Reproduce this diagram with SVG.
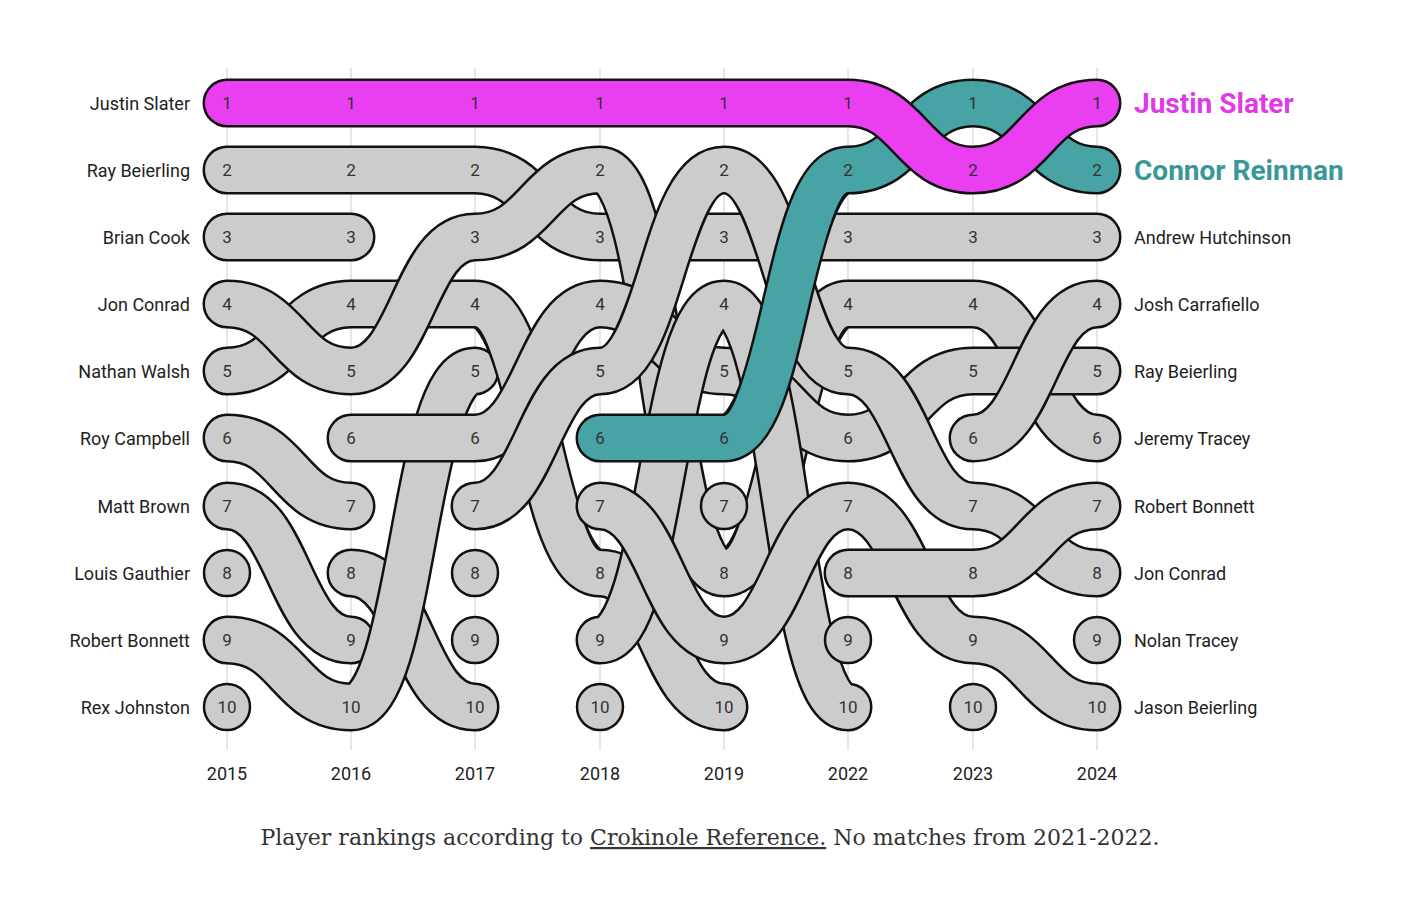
<svg xmlns="http://www.w3.org/2000/svg" xmlns:xlink="http://www.w3.org/1999/xlink" width="1420" height="918" viewBox="0 0 1420 918">
<style>
.o{fill:none;stroke:#111;stroke-width:49;stroke-linecap:round;stroke-linejoin:round}
.g{fill:none;stroke:#cccccc;stroke-width:44;stroke-linecap:round;stroke-linejoin:round}
.m{fill:none;stroke:#ea3ff0;stroke-width:44;stroke-linecap:round}
.t{fill:none;stroke:#48a3a4;stroke-width:44;stroke-linecap:round}
.dot{fill:#cccccc;stroke:#111;stroke-width:2.5}
.n{font-family:Roboto,"Liberation Sans",sans-serif;font-size:17px;fill:#333;text-anchor:middle}
.lab{font-family:Roboto,"Liberation Sans",sans-serif;font-size:18px;fill:#222}
.yr{font-family:Roboto,"Liberation Sans",sans-serif;font-size:18px;fill:#222;text-anchor:middle}
.grid{stroke:#e6e6e6;stroke-width:2}
</style>
<defs>
<path id="pRay" d="M227 170 H475 C537 170 538 237 600 237 H1097"/>
<path id="pBrian" d="M227 237 H351"/>
<path id="pJon" d="M227 304 C289 304 289 371 351 371 C413 371 413 237 475 237 C537 237 538 170 600 170 C662 170 662 573 724 573 C786 573 786 304 848 304 H973 C1035 304 1035 438 1097 438"/>
<path id="pNathan" d="M227 371 C289 371 289 304 351 304 H475 C537 304 538 573 600 573 C662 573 662 707 724 707"/>
<path id="pRoy" d="M227 438 C289 438 289 506 351 506"/>
<path id="pMatt" d="M227 506 C289 506 289 640 351 640"/>
<path id="pRobert" d="M227 640 C289 640 289 707 351 707 C413 707 413 371 475 371"/>
<path id="pC6" d="M351 438 H475 C537 438 538 304 600 304 C662 304 662 371 724 371 C786 371 786 438 848 438 C910 438 911 371 973 371 H1097"/>
<path id="pC8" d="M351 573 C413 573 413 707 475 707"/>
<path id="pC7" d="M475 506 C537 506 538 371 600 371 C662 371 662 170 724 170 C786 170 786 371 848 371 C910 371 911 506 973 506 C1035 506 1035 573 1097 573"/>
<path id="pD7" d="M600 506 C662 506 662 640 724 640 C786 640 786 506 848 506 C910 506 911 640 973 640 C1035 640 1035 707 1097 707"/>
<path id="pD9" d="M600 640 C662 640 662 304 724 304 C786 304 786 707 848 707"/>
<path id="pE8" d="M848 573 H973 C1035 573 1035 506 1097 506"/>
<path id="pF6" d="M973 438 C1035 438 1035 304 1097 304"/>
<path id="pTeal" d="M600 438 H724 C786 438 786 170 848 170 C910 170 911 103 973 103 C1035 103 1035 170 1097 170"/>
<path id="pMag" d="M227 103 H848 C910 103 911 170 973 170 C1035 170 1035 103 1097 103"/>
</defs>
<g id="grid">
<line class="grid" x1="227" y1="68" x2="227" y2="750"/><line class="grid" x1="351" y1="68" x2="351" y2="750"/><line class="grid" x1="475" y1="68" x2="475" y2="750"/><line class="grid" x1="600" y1="68" x2="600" y2="750"/><line class="grid" x1="724" y1="68" x2="724" y2="750"/><line class="grid" x1="848" y1="68" x2="848" y2="750"/><line class="grid" x1="973" y1="68" x2="973" y2="750"/><line class="grid" x1="1097" y1="68" x2="1097" y2="750"/>
</g>
<g id="connectors">
<g id="ray-beierling"><use href="#pRay" class="o"/><use href="#pRay" class="g"/></g>
<g id="brian-cook"><use href="#pBrian" class="o"/><use href="#pBrian" class="g"/></g>
<g id="roy-campbell"><use href="#pRoy" class="o"/><use href="#pRoy" class="g"/></g>
<g id="matt-brown"><use href="#pMatt" class="o"/><use href="#pMatt" class="g"/></g>
<g id="c8"><use href="#pC8" class="o"/><use href="#pC8" class="g"/></g>
<g id="robert-bonnett"><use href="#pRobert" class="o"/><use href="#pRobert" class="g"/></g>
<g id="nathan-walsh"><use href="#pNathan" class="o"/><use href="#pNathan" class="g"/></g>
<g id="jon-conrad"><use href="#pJon" class="o"/><use href="#pJon" class="g"/></g>
<g id="c6"><use href="#pC6" class="o"/><use href="#pC6" class="g"/></g>
<g id="c7"><use href="#pC7" class="o"/><use href="#pC7" class="g"/></g>
<g id="d9"><use href="#pD9" class="o"/><use href="#pD9" class="g"/></g>
<g id="d7"><use href="#pD7" class="o"/><use href="#pD7" class="g"/></g>
<g id="e8"><use href="#pE8" class="o"/><use href="#pE8" class="g"/></g>
<g id="f6"><use href="#pF6" class="o"/><use href="#pF6" class="g"/></g>
<g id="connor-reinman"><use href="#pTeal" class="o"/><use href="#pTeal" class="t"/></g>
<g id="justin-slater"><use href="#pMag" class="o"/><use href="#pMag" class="m"/></g>
</g>
<g id="single-nodes">
<circle class="dot" cx="227" cy="573" r="23"/><circle class="dot" cx="227" cy="707" r="23"/><circle class="dot" cx="475" cy="573" r="23"/><circle class="dot" cx="475" cy="640" r="23"/><circle class="dot" cx="600" cy="707" r="23"/><circle class="dot" cx="724" cy="506" r="23"/><circle class="dot" cx="848" cy="640" r="23"/><circle class="dot" cx="973" cy="707" r="23"/><circle class="dot" cx="1097" cy="640" r="23"/>
</g>
<g id="numbers" class="n">
<g transform="translate(227,0)"><text y="109">1</text><text y="176">2</text><text y="243">3</text><text y="310">4</text><text y="377">5</text><text y="444">6</text><text y="512">7</text><text y="579">8</text><text y="646">9</text><text y="713">10</text></g>
<g transform="translate(351,0)"><text y="109">1</text><text y="176">2</text><text y="243">3</text><text y="310">4</text><text y="377">5</text><text y="444">6</text><text y="512">7</text><text y="579">8</text><text y="646">9</text><text y="713">10</text></g>
<g transform="translate(475,0)"><text y="109">1</text><text y="176">2</text><text y="243">3</text><text y="310">4</text><text y="377">5</text><text y="444">6</text><text y="512">7</text><text y="579">8</text><text y="646">9</text><text y="713">10</text></g>
<g transform="translate(600,0)"><text y="109">1</text><text y="176">2</text><text y="243">3</text><text y="310">4</text><text y="377">5</text><text y="444">6</text><text y="512">7</text><text y="579">8</text><text y="646">9</text><text y="713">10</text></g>
<g transform="translate(724,0)"><text y="109">1</text><text y="176">2</text><text y="243">3</text><text y="310">4</text><text y="377">5</text><text y="444">6</text><text y="512">7</text><text y="579">8</text><text y="646">9</text><text y="713">10</text></g>
<g transform="translate(848,0)"><text y="109">1</text><text y="176">2</text><text y="243">3</text><text y="310">4</text><text y="377">5</text><text y="444">6</text><text y="512">7</text><text y="579">8</text><text y="646">9</text><text y="713">10</text></g>
<g transform="translate(973,0)"><text y="109">1</text><text y="176">2</text><text y="243">3</text><text y="310">4</text><text y="377">5</text><text y="444">6</text><text y="512">7</text><text y="579">8</text><text y="646">9</text><text y="713">10</text></g>
<g transform="translate(1097,0)"><text y="109">1</text><text y="176">2</text><text y="243">3</text><text y="310">4</text><text y="377">5</text><text y="444">6</text><text y="512">7</text><text y="579">8</text><text y="646">9</text><text y="713">10</text></g>
</g>
<g id="left-labels" class="lab" text-anchor="end">
<text x="190" y="110">Justin Slater</text><text x="190" y="177">Ray Beierling</text><text x="190" y="244">Brian Cook</text><text x="190" y="311">Jon Conrad</text><text x="190" y="378">Nathan Walsh</text><text x="190" y="445">Roy Campbell</text><text x="190" y="513">Matt Brown</text><text x="190" y="580">Louis Gauthier</text><text x="190" y="647">Robert Bonnett</text><text x="190" y="714">Rex Johnston</text>
</g>
<g id="right-labels" class="lab">
<text x="1134" y="113" style="font-size:28px;font-weight:bold;fill:#e03ae8">Justin Slater</text>
<text x="1134" y="180" style="font-size:28px;font-weight:bold;fill:#3a9797">Connor Reinman</text>
<text x="1134" y="244">Andrew Hutchinson</text><text x="1134" y="311">Josh Carrafiello</text><text x="1134" y="378">Ray Beierling</text><text x="1134" y="445">Jeremy Tracey</text><text x="1134" y="513">Robert Bonnett</text><text x="1134" y="580">Jon Conrad</text><text x="1134" y="647">Nolan Tracey</text><text x="1134" y="714">Jason Beierling</text>
</g>
<g id="years" class="yr">
<text x="227" y="780">2015</text><text x="351" y="780">2016</text><text x="475" y="780">2017</text><text x="600" y="780">2018</text><text x="724" y="780">2019</text><text x="848" y="780">2022</text><text x="973" y="780">2023</text><text x="1097" y="780">2024</text>
</g>
<text x="710" y="845" text-anchor="middle" style="font-family:'DejaVu Serif','Liberation Serif',serif;font-size:22px;fill:#333">Player rankings according to <tspan text-decoration="underline">Crokinole Reference.</tspan> No matches from 2021-2022.</text>
</svg>
